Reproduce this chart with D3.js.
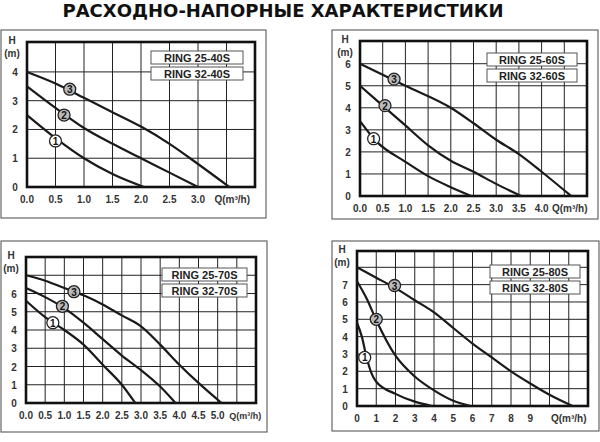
<!DOCTYPE html>
<html><head><meta charset="utf-8">
<script src="https://cdn.jsdelivr.net/npm/d3@7"></script>
<style>body{margin:0;background:#fff}svg{display:block}</style>
</head><body><svg id="c" width="600" height="442"></svg>
<script>
const title = "РАСХОДНО-НАПОРНЫЕ ХАРАКТЕРИСТИКИ";
// Panel 1: RING 25-40S / 32-40S
const p1Models = ["RING 25-40S","RING 32-40S"];
const p1XTicks = ["0.0","0.5","1.0","1.5","2.0","2.5","3.0"];
const p1YTicks = [0,1,2,3,4];
const p1Curve1 = [[0,2.5],[0.5,1.7],[1.0,1.0],[1.5,0.45],[2.05,0]];
const p1Curve2 = [[0,3.5],[0.5,2.75],[1.0,2.05],[1.5,1.5],[2.0,1.0],[2.5,0.5],[3.0,0]];
const p1Curve3 = [[0,4.0],[0.5,3.6],[1.0,3.1],[1.5,2.6],[2.0,2.1],[2.5,1.5],[3.0,0.8],[3.55,0]];
// Panel 2: RING 25-60S / 32-60S
const p2Models = ["RING 25-60S","RING 32-60S"];
const p2XTicks = ["0.0","0.5","1.0","1.5","2.0","2.5","3.0","3.5","4.0"];
const p2YTicks = [0,1,2,3,4,5,6];
const p2Curve1 = [[0,3.4],[0.35,2.5],[1.0,1.55],[1.5,0.9],[2.0,0.4],[2.45,0]];
const p2Curve2 = [[0,5.0],[0.5,4.1],[1.0,3.2],[1.5,2.3],[2.0,1.6],[2.5,1.1],[3.0,0.55],[3.55,0]];
const p2Curve3 = [[0,6.0],[0.75,5.25],[1.0,5.0],[2.0,4.0],[2.5,3.3],[3.0,2.55],[3.5,1.9],[4.0,1.1],[4.65,0]];
// Panel 3: RING 25-70S / 32-70S
const p3Models = ["RING 25-70S","RING 32-70S"];
const p3XTicks = ["0.0","0.5","1.0","1.5","2.0","2.5","3.0","3.5","4.0","4.5","5.0"];
const p3YTicks = [0,1,2,3,4,5,6];
const p3Curve1 = [[0,5.6],[0.5,4.7],[1.0,4.0],[1.5,3.2],[2.0,2.1],[2.5,1.0],[2.85,0]];
const p3Curve2 = [[0,6.3],[0.5,5.8],[1.0,5.2],[1.5,4.4],[2.0,3.5],[2.5,2.6],[3.0,1.8],[3.5,0.9],[3.9,0]];
const p3Curve3 = [[0,7.0],[0.5,6.7],[1.0,6.3],[1.5,5.9],[2.0,5.4],[2.5,4.8],[3.0,4.2],[3.5,3.2],[4.0,2.1],[4.5,1.1],[5.1,0]];
// Panel 4: RING 25-80S / 32-80S
const p4Models = ["RING 25-80S","RING 32-80S"];
const p4XTicks = ["0","1","2","3","4","5","6","7","8","9"];
const p4YTicks = [0,1,2,3,4,5,6,7];
const p4Curve1 = [[0,4.8],[0.25,4.0],[0.5,2.8],[0.75,1.9],[1.0,1.4],[2.0,0.7],[3.0,0.25],[3.9,0]];
const p4Curve2 = [[0,7.2],[0.5,6.2],[1.0,4.95],[2.0,2.9],[3.0,1.7],[4.0,0.9],[5.0,0.3],[5.9,0]];
const p4Curve3 = [[0,8.0],[1.0,7.4],[2.0,6.8],[3.0,6.1],[4.0,5.4],[5.0,4.5],[6.0,3.6],[7.0,2.8],[8.0,2.0],[9.0,1.3],[10.0,0.65],[11.2,0]];

const panels = [
 {frame:[1,30,266,218], plot:[27,42,255,187], xMax:4, yMax:5.04, xStep:0.5, yStep:1, models:p1Models, xt:p1XTicks, yt:p1YTicks, curves:[p1Curve1,p1Curve2,p1Curve3], lbl:[[0.5,1.6],[0.65,2.5],[0.75,3.4]], leg:[151,51,92], qAt:3.6, qFs:10},
 {frame:[332,30,598,219], plot:[360,41,587,196], xMax:5, yMax:7.03, xStep:0.5, yStep:1, models:p2Models, xt:p2XTicks, yt:p2YTicks, curves:[p2Curve1,p2Curve2,p2Curve3], lbl:[[0.3,2.6],[0.55,4.1],[0.75,5.3]], leg:[487,53,90], qAt:4.62, qFs:10},
 {frame:[1,241,267,432], plot:[26,257,256,403], xMax:6, yMax:8, xStep:0.5, yStep:1, models:p3Models, xt:p3XTicks, yt:p3YTicks, curves:[p3Curve1,p3Curve2,p3Curve3], lbl:[[0.7,4.4],[0.95,5.3],[1.25,6.1]], leg:[162,268,85], qAt:5.72, qFs:9},
 {frame:[332,241,599,431], plot:[357,251,588,406], xMax:12, yMax:8.94, xStep:1, yStep:1, models:p4Models, xt:p4XTicks, yt:p4YTicks, curves:[p4Curve1,p4Curve2,p4Curve3], lbl:[[0.4,2.8],[1.0,5.0],[1.95,6.95]], leg:[490,265,90], qAt:11, qFs:10}
];

const svg = d3.select("#c");
const F = "'Liberation Sans', Arial, sans-serif";
svg.append("text").attr("x",283).attr("y",17).attr("text-anchor","middle")
  .attr("font-family","'DejaVu Sans', sans-serif").attr("font-weight","bold")
  .attr("font-size",18).attr("fill","#111").text(title);

panels.forEach(p=>{
  const g = svg.append("g");
  const [fx0,fy0,fx1,fy1]=p.frame;
  g.append("rect").attr("x",fx0).attr("y",fy0).attr("width",fx1-fx0).attr("height",fy1-fy0)
    .attr("fill","none").attr("stroke","#666").attr("stroke-width",1.2);
  const [x0,y0,x1,y1]=p.plot;
  const x=d3.scaleLinear().domain([0,p.xMax]).range([x0,x1]);
  const y=d3.scaleLinear().domain([0,p.yMax]).range([y1,y0]);
  const xs=d3.range(p.xStep,p.xMax-1e-6,p.xStep);
  const ys=d3.range(p.yStep,p.yMax-0.1,p.yStep);
  g.selectAll(".vx").data(xs).join("line").attr("x1",d=>x(d)).attr("x2",d=>x(d)).attr("y1",y0).attr("y2",y1).attr("stroke","#222").attr("stroke-width",1);
  g.selectAll(".hy").data(ys).join("line").attr("x1",x0).attr("x2",x1).attr("y1",d=>y(d)).attr("y2",d=>y(d)).attr("stroke","#222").attr("stroke-width",1);
  g.append("rect").attr("x",x0).attr("y",y0).attr("width",x1-x0).attr("height",y1-y0).attr("fill","none").attr("stroke","#111").attr("stroke-width",2.6);
  g.selectAll(".xt").data(p.xt).join("text").attr("x",d=>x(+d)).attr("y",y1+16).attr("text-anchor","middle")
    .attr("font-family",F).attr("font-weight","bold").attr("font-size",10).attr("fill","#333").text(d=>d);
  g.append("text").attr("x",x(p.qAt)).attr("y",y1+16).attr("text-anchor","middle").attr("font-family",F).attr("font-weight","bold").attr("font-size",p.qFs).attr("fill","#333").text("Q(m³/h)");
  g.selectAll(".yt").data(p.yt).join("text").attr("x",x0-12).attr("y",d=>y(d)+4).attr("text-anchor","middle")
    .attr("font-family",F).attr("font-weight","bold").attr("font-size",10).attr("fill","#333").text(d=>d);
  g.append("text").attr("x",x0-15).attr("y",y0+2).attr("text-anchor","middle").attr("font-family",F).attr("font-weight","bold").attr("font-size",10).attr("fill","#333").text("H");
  g.append("text").attr("x",x0-15).attr("y",y0+15).attr("text-anchor","middle").attr("font-family",F).attr("font-weight","bold").attr("font-size",10).attr("fill","#333").text("(m)");
  p.models.forEach((m,i)=>{
    const [lx,ly,lw]=p.leg;
    g.append("rect").attr("x",lx).attr("y",ly+i*16).attr("width",lw).attr("height",13).attr("fill","#fff").attr("stroke","#555").attr("stroke-width",1);
    g.append("text").attr("x",lx+lw/2).attr("y",ly+i*16+11).attr("text-anchor","middle").attr("font-family",F).attr("font-weight","bold").attr("font-size",11).attr("fill","#222").text(m);
  });
  const line=d3.line().x(d=>x(d[0])).y(d=>y(d[1])).curve(d3.curveMonotoneX);
  p.curves.forEach(c=>g.append("path").attr("d",line(c)).attr("fill","none").attr("stroke","#1a1a1a").attr("stroke-width",2.2));
  p.lbl.forEach((l,i)=>{
    g.append("circle").attr("cx",x(l[0])).attr("cy",y(l[1])).attr("r",6).attr("fill",i==0?"#fff":"#bbb").attr("stroke","#222").attr("stroke-width",1.3);
    g.append("text").attr("x",x(l[0])).attr("y",y(l[1])+4).attr("text-anchor","middle").attr("font-family",F).attr("font-weight","bold").attr("font-size",10).attr("fill","#111").text(i+1);
  });
});
</script></body></html>
